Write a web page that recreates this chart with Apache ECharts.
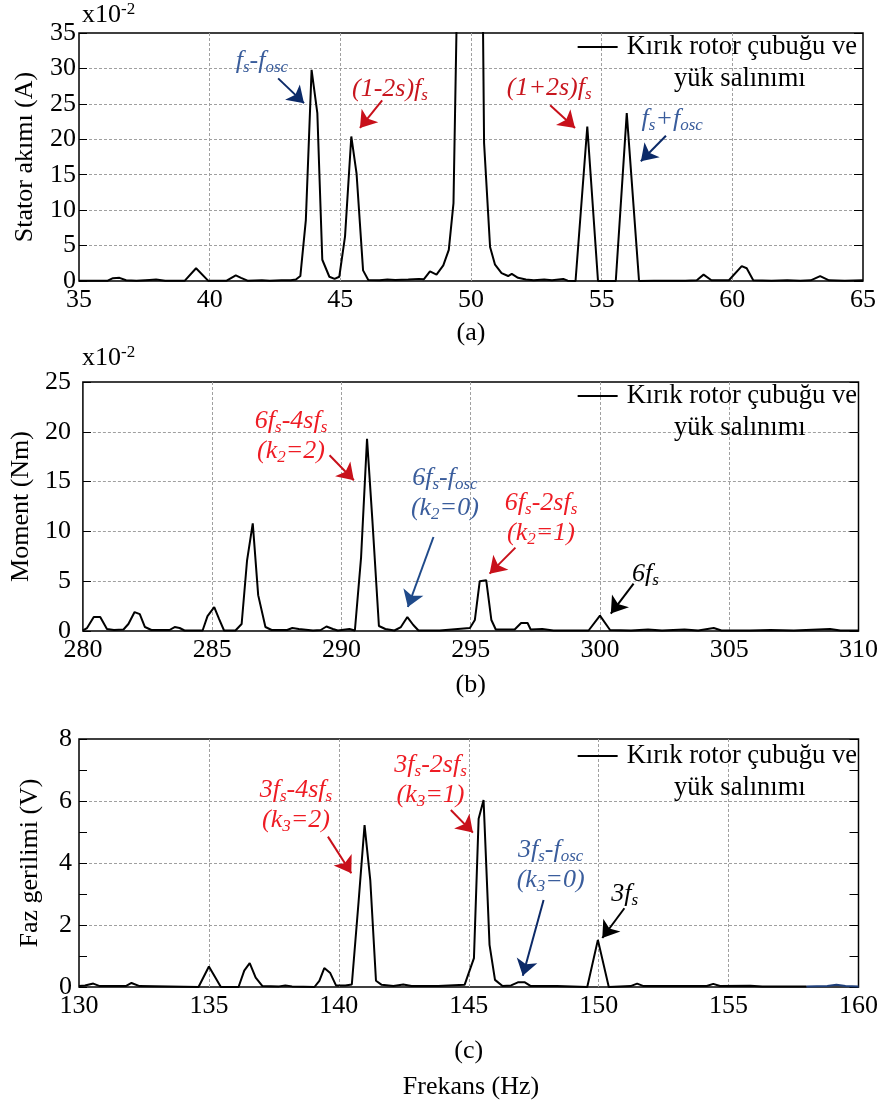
<!DOCTYPE html>
<html>
<head>
<meta charset="utf-8">
<script src="https://cdn.jsdelivr.net/npm/echarts@6/dist/echarts.min.js"></script>
<style>
  html, body { margin: 0; padding: 0; background: #fff; }
  #chart { width: 881px; height: 1106px; }
</style>
</head>
<body>
<div id="chart"></div>
<script>
// ---- Spectrum data (frequency in Hz, amplitude in panel units) ----
// (a) stator current, x10^-2 A
const freqA = [35.0, 35.5, 36.1, 36.3, 36.55, 36.8, 37.2, 37.7, 37.95, 38.3, 39.05, 39.48, 39.94, 40.65, 41.0, 41.2, 41.45,
  42.0, 42.3, 42.75, 43.1, 43.3, 43.47, 43.68, 43.9, 44.12, 44.31, 44.58, 44.78, 44.96, 45.18, 45.42, 45.62, 45.87, 46.07,
  46.5, 46.8, 47.1, 47.6, 48.0, 48.2, 48.43, 48.68, 48.94, 49.15, 49.33, 49.56, 49.78, 50.0, 50.3, 50.5, 50.73, 50.92,
  51.17, 51.42, 51.56, 51.8, 52.1, 52.4, 52.8, 53.1, 53.53, 53.7, 54.0, 54.45, 54.86, 55.54, 55.96, 56.43, 57.0, 57.6,
  58.2, 58.64, 58.9, 59.2, 59.87, 60.36, 60.55, 60.8, 61.5, 62.1, 62.6, 63.0, 63.36, 63.7, 64.3, 65.0];
const ampA = [0.05, 0.02, 0.05, 0.4, 0.45, 0.1, 0.05, 0.15, 0.2, 0.05, 0.05, 1.8, 0.05, 0.05, 0.8, 0.45, 0.05,
  0.1, 0.05, 0.12, 0.1, 0.2, 0.7, 8.6, 29.8, 23.7, 3.0, 0.6, 0.3, 0.6, 6.3, 20.4, 15.2, 1.5, 0.15,
  0.1, 0.2, 0.15, 0.2, 0.3, 0.25, 1.35, 0.9, 2.2, 4.4, 11.0, 60, 250, 400, 100, 19.5, 4.8, 2.3,
  1.1, 0.7, 1.0, 0.45, 0.2, 0.1, 0.2, 0.1, 0.3, 0.05, 0.0, 21.8, 0.0, 0.0, 23.7, 0.0, 0.05, 0.05,
  0.05, 0.1, 0.9, 0.1, 0.1, 2.1, 1.8, 0.1, 0.05, 0.1, 0.05, 0.1, 0.7, 0.1, 0.05, 0.1];

// (b) torque, x10^-2 Nm
const freqB = [280.0, 280.16, 280.42, 280.67, 280.93, 281.2, 281.57, 281.76, 282.0, 282.2, 282.4, 282.65, 283.35, 283.55,
  283.74, 283.93, 284.63, 284.82, 285.08, 285.27, 285.46, 285.9, 286.14, 286.35, 286.57, 286.78, 287.06, 287.3, 287.9,
  288.1, 288.35, 288.9, 289.2, 289.42, 289.67, 289.86, 290.31, 290.52, 290.76, 290.99, 291.2, 291.45, 291.7, 292.05,
  292.3, 292.55, 292.78, 292.98, 293.8, 294.97, 295.16, 295.35, 295.6, 295.8, 295.97, 296.7, 296.95, 297.2, 297.32,
  297.77, 298.2, 299.56, 300.0, 300.39, 301.2, 301.86, 302.4, 303.27, 303.8, 304.4, 304.7, 305.8, 306.6, 307.5, 308.9,
  309.3, 310.0];
const ampB = [0.07, 0.3, 1.4, 1.4, 0.2, 0.1, 0.15, 0.7, 1.9, 1.7, 0.4, 0.1, 0.1, 0.4,
  0.3, 0.05, 0.05, 1.5, 2.4, 1.2, 0.05, 0.05, 0.7, 7.1, 10.8, 3.6, 0.4, 0.1, 0.1,
  0.3, 0.2, 0.05, 0.1, 0.45, 0.2, 0.05, 0.2, 0.05, 7.4, 19.3, 11.0, 0.5, 0.2, 0.05,
  0.4, 1.4, 0.6, 0.05, 0.05, 0.3, 1.1, 5.0, 5.1, 1.1, 0.15, 0.15, 0.8, 0.8, 0.15,
  0.2, 0.05, 0.05, 1.55, 0.1, 0.05, 0.15, 0.05, 0.15, 0.05, 0.3, 0.05, 0.05, 0.1, 0.05, 0.2,
  0.05, 0.05];

// (c) phase voltage, V
const freqC = [130.0, 130.23, 130.55, 130.8, 131.8, 132.02, 132.33, 134.6, 135.0, 135.46, 136.14, 136.36, 136.57, 136.8,
  137.06, 137.7, 137.94, 138.2, 139.06, 139.25, 139.44, 139.67, 139.89, 140.25, 140.5, 140.76, 140.99, 141.21, 141.43,
  141.65, 142.1, 142.48, 142.8, 143.82, 144.84, 145.2, 145.38, 145.57, 145.8, 146.01, 146.3, 146.63, 146.89, 147.16,
  147.39, 148.4, 149.56, 149.97, 150.39, 151.23, 151.48, 151.73, 154.16, 154.41, 154.67, 155.84, 156.3, 158.0];
const ampC = [0.03, 0.05, 0.11, 0.03, 0.03, 0.13, 0.03, 0.0, 0.66, 0.0, 0.0, 0.53, 0.77, 0.3,
  0.03, 0.02, 0.05, 0.02, 0.0, 0.2, 0.61, 0.45, 0.05, 0.05, 0.08, 2.75, 5.22, 3.45, 0.2,
  0.07, 0.03, 0.08, 0.03, 0.03, 0.07, 0.93, 5.43, 6.03, 1.36, 0.23, 0.03, 0.05, 0.15, 0.15,
  0.03, 0.03, 0.0, 1.52, 0.0, 0.03, 0.11, 0.03, 0.03, 0.1, 0.03, 0.04, 0.02, 0.02];
// trace end drawn in dark blue
const freqC2 = [158.0, 158.8, 159.15, 159.5, 160.0];
const ampC2 = [0.02, 0.03, 0.07, 0.03, 0.02];

// axis ranges: [min, max, interval]
const xRangeA = [35, 65, 5], yRangeA = [0, 35, 5];
const xRangeB = [280, 310, 5], yRangeB = [0, 25, 5];
const xRangeC = [130, 160, 5], yRangeC = [0, 8, 2];

const SERIES_NAME = 'Kırık rotor çubuğu ve yük salınımı';
const captions = ['(a)', '(b)', '(c)'];
const yNames = ['Stator akımı (A)', 'Moment (Nm)', 'Faz gerilimi (V)'];
const xName = 'Frekans (Hz)';

// ---- styling ----
const FONT = '"Liberation Serif", "Times New Roman", serif';
const RED_A = '#c8161e', RED = '#ee1c24', RED_ARROW = '#c8101a';
const BLUE_TXT = '#3a5d9c', NAVY = '#0c2a68', BLACK = '#000';

// annotation labels (rich text) anchored in data coordinates
const notesA = [
  { text: '{n|f}{s|s}{n|-f}{s|osc}', color: BLUE_TXT, at: [42.0, 31.0] },
  { text: '{n|(1-2s)f}{s|s}', color: RED_A, at: [46.9, 27.1] },
  { text: '{n|(1+2s)f}{s|s}', color: RED_A, at: [52.99, 27.2] },
  { text: '{n|f}{s|s}{n|+f}{s|osc}', color: BLUE_TXT, at: [57.7, 22.9] }
];
const arrowsA = [
  { from: [42.62, 28.6], to: [43.61, 25.1], color: NAVY },
  { from: [46.6, 25.5], to: [45.75, 21.6], color: RED_ARROW },
  { from: [53.03, 24.8], to: [53.98, 21.6], color: RED_ARROW },
  { from: [57.46, 20.5], to: [56.5, 16.9], color: NAVY }
];
const notesB = [
  { text: '{n|6f}{s|s}{n|-4sf}{s|s}\n{n|(k}{s|2}{n|=2)}', color: RED, at: [288.05, 19.6] },
  { text: '{n|6f}{s|s}{n|-f}{s|osc}\n{n|(k}{s|2}{n|=0)}', color: BLUE_TXT, at: [294.0, 13.85] },
  { text: '{n|6f}{s|s}{n|-2sf}{s|s}\n{n|(k}{s|2}{n|=1)}', color: RED, at: [297.72, 11.3] },
  { text: '{n|6f}{s|s}', color: BLACK, at: [301.76, 5.74] }
];
const arrowsB = [
  { from: [289.54, 17.64], to: [290.48, 15.13], color: RED_ARROW },
  { from: [293.56, 9.44], to: [292.57, 2.41], color: '#1f4a8a' },
  { from: [296.73, 8.37], to: [295.73, 5.76], color: RED_ARROW },
  { from: [301.3, 4.76], to: [300.42, 1.75], color: BLACK }
];
const notesC = [
  { text: '{n|3f}{s|s}{n|-4sf}{s|s}\n{n|(k}{s|3}{n|=2)}', color: RED, at: [138.35, 5.88] },
  { text: '{n|3f}{s|s}{n|-2sf}{s|s}\n{n|(k}{s|3}{n|=1)}', color: RED, at: [143.53, 6.67] },
  { text: '{n|3f}{s|s}{n|-f}{s|osc}\n{n|(k}{s|3}{n|=0)}', color: BLUE_TXT, at: [148.15, 3.93] },
  { text: '{n|3f}{s|s}', color: BLACK, at: [151.0, 3.0] }
];
const arrowsC = [
  { from: [139.58, 4.85], to: [140.48, 3.67], color: RED_ARROW },
  { from: [144.31, 5.71], to: [145.16, 4.98], color: RED_ARROW },
  { from: [147.88, 2.81], to: [147.08, 0.36], color: NAVY },
  { from: [150.99, 2.54], to: [150.14, 1.58], color: BLACK }
];

const pairs = (xs, ys) => xs.map((x, i) => [x, ys[i]]);

const noteRich = {
  n: { fontFamily: FONT, fontStyle: 'italic', fontSize: 26, lineHeight: 30 },
  s: { fontFamily: FONT, fontStyle: 'italic', fontSize: 17, lineHeight: 14, padding: [13, 0, 0, 0] }
};

function markPoints(notes) {
  return {
    symbol: 'circle', symbolSize: 1, silent: true, animation: false,
    itemStyle: { color: 'rgba(0,0,0,0)' },
    label: { show: true, position: 'inside', rich: noteRich, align: 'center' },
    data: notes.map(n => ({
      coord: n.at,
      label: { formatter: n.text, color: n.color, rich: noteRich }
    }))
  };
}

function markArrows(arrows) {
  return {
    silent: true, animation: false,
    symbol: ['none', 'arrow'], symbolSize: 16,
    label: { show: false },
    emphasis: { disabled: true },
    data: arrows.map(a => [
      { coord: a.from, lineStyle: { color: a.color, width: 2, type: 'solid' }, itemStyle: { color: a.color } },
      { coord: a.to }
    ])
  };
}

const tickFont = { fontFamily: FONT, fontSize: 26, color: '#000' };
const gridLine = { show: true, showMinLine: false, showMaxLine: false,
  lineStyle: { color: '#a0a0a0', type: [3, 2], width: 1 } };

function xAxis(gi, r, caption, gap) {
  return {
    gridIndex: gi, type: 'value', min: r[0], max: r[1], interval: r[2],
    axisLine: { show: false }, axisTick: { show: false },
    axisLabel: Object.assign({ margin: 6 }, tickFont),
    splitLine: gridLine,
    name: caption, nameLocation: 'middle', nameGap: gap,
    nameTextStyle: { fontFamily: FONT, fontSize: 26, color: '#000' }
  };
}
function yAxisLeft(gi, r, name, gap, labelMargin, minor) {
  return {
    gridIndex: gi, type: 'value', min: r[0], max: r[1], interval: r[2],
    axisLine: { show: false },
    axisTick: { show: true, inside: true, length: 8, lineStyle: { color: '#000', width: 1 } },
    minorTick: { show: !!minor, splitNumber: 2, length: 8, lineStyle: { color: '#000', width: 1 } },
    axisLabel: Object.assign({ margin: labelMargin }, tickFont),
    splitLine: gridLine,
    name: name, nameLocation: 'middle', nameGap: gap,
    nameTextStyle: { fontFamily: FONT, fontSize: 26, color: '#000' }
  };
}
function yAxisRight(gi, r, minor) {
  return {
    gridIndex: gi, type: 'value', position: 'right', min: r[0], max: r[1], interval: r[2],
    axisLine: { show: false },
    axisTick: { show: true, inside: true, length: 9, lineStyle: { color: '#000', width: 1 } },
    minorTick: { show: !!minor, splitNumber: 2, length: 9, lineStyle: { color: '#000', width: 1 } },
    axisLabel: { show: false }, splitLine: { show: false }
  };
}

function lineSeries(xi, yi, xs, ys, notes, arrows) {
  return {
    name: SERIES_NAME, type: 'line', xAxisIndex: xi, yAxisIndex: yi,
    data: pairs(xs, ys), symbol: 'none', clip: true, animation: false,
    lineStyle: { color: '#000', width: 2 }, itemStyle: { color: '#000' },
    markPoint: markPoints(notes), markLine: markArrows(arrows), z: 3
  };
}

function legendAt(top) {
  return {
    data: [SERIES_NAME], right: 24, top: top, padding: 0,
    icon: 'rect', itemWidth: 40, itemHeight: 2, itemStyle: { color: '#000' },
    selectedMode: false,
    formatter: name => {
      const i = name.indexOf(' yük');
      return '{e| }\n{a|' + name.slice(0, i) + '}\n{b|' + name.slice(i + 1) + '}';
    },
    textStyle: {
      fontFamily: FONT, fontSize: 26, color: '#000',
      rich: {
        e: { fontFamily: FONT, fontSize: 26, lineHeight: 32 },
        a: { fontFamily: FONT, fontSize: 26.5, lineHeight: 32, padding: [0, 0, 0, 4] },
        b: { fontFamily: FONT, fontSize: 26.5, lineHeight: 32, align: 'center' }
      }
    }
  };
}

function powerLabel(top) {
  return {
    type: 'text', left: 82, top: top, silent: true,
    style: {
      text: '{a|x10}{b|-2}', fill: '#000',
      rich: {
        a: { fontFamily: FONT, fontSize: 26, lineHeight: 28 },
        b: { fontFamily: FONT, fontSize: 17, lineHeight: 14, padding: [0, 0, 12, 0] }
      }
    }
  };
}

const chart = echarts.init(document.getElementById('chart'), null, { renderer: 'canvas' });
chart.setOption({
  backgroundColor: '#fff',
  animation: false,
  grid: [
    { left: 79, right: 18, top: 33, height: 248, show: true, borderColor: '#000', borderWidth: 1.5, backgroundColor: 'transparent' },
    { left: 79, right: 18, top: 382, height: 249, show: true, borderColor: '#000', borderWidth: 1.5, backgroundColor: 'transparent' },
    { left: 79, right: 18, top: 739, height: 248, show: true, borderColor: '#000', borderWidth: 1.5, backgroundColor: 'transparent' }
  ],
  xAxis: [
    xAxis(0, xRangeA, captions[0], 39),
    xAxis(1, xRangeB, captions[1], 41),
    xAxis(2, xRangeC, captions[2], 51)
  ],
  yAxis: [
    yAxisLeft(0, yRangeA, yNames[0], 41, 3),
    yAxisRight(0, yRangeA),
    yAxisLeft(1, yRangeB, yNames[1], 47, 12),
    yAxisRight(1, yRangeB),
    yAxisLeft(2, yRangeC, yNames[2], 36, 7, true),
    yAxisRight(2, yRangeC, true)
  ],
  legend: [legendAt(2), legendAt(351), legendAt(711)],
  series: [
    lineSeries(0, 0, freqA, ampA, notesA, arrowsA),
    lineSeries(1, 2, freqB, ampB, notesB, arrowsB),
    lineSeries(2, 4, freqC, ampC, notesC, arrowsC),
    {
      name: 'tail', type: 'line', xAxisIndex: 2, yAxisIndex: 4,
      data: pairs(freqC2, ampC2), symbol: 'none', animation: false,
      lineStyle: { color: '#1f3f7a', width: 2 }, z: 3
    }
  ],
  graphic: [
    powerLabel(1),
    powerLabel(344),
    {
      type: 'text', x: 471, y: 1087, silent: true,
      style: { text: xName, fontFamily: FONT, fontSize: 26, fill: '#000', align: 'center', verticalAlign: 'middle' }
    }
  ]
});
</script>
</body>
</html>
